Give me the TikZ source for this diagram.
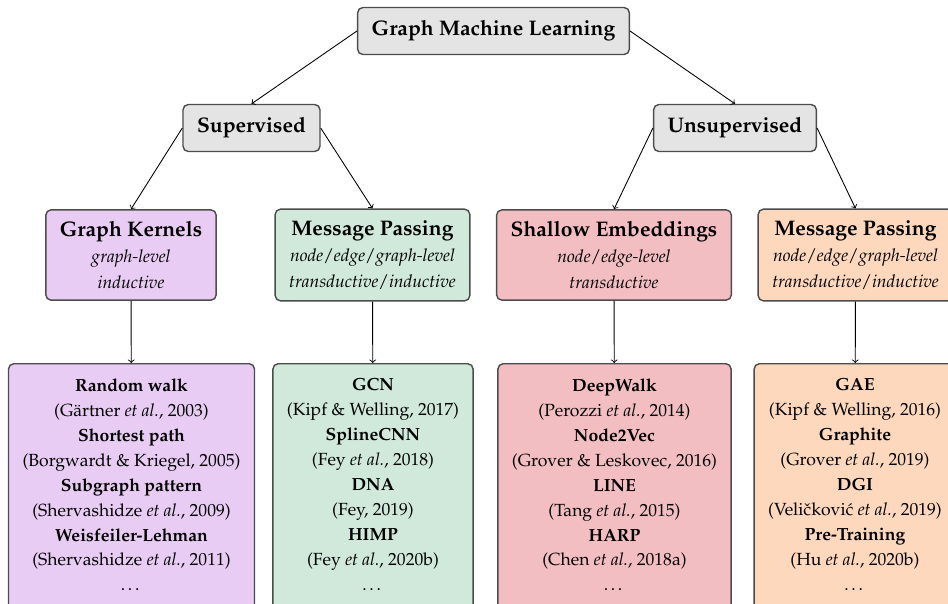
\documentclass[tikz,border=0pt]{standalone}
\usepackage[T1]{fontenc}
\usepackage{mathpazo}
\usepackage{tikz}

\definecolor{headgray}{RGB}{228,228,228}
\definecolor{kernpurple}{RGB}{232,204,243}
\definecolor{mpgreen}{RGB}{208,233,218}
\definecolor{shallowred}{RGB}{243,190,194}
\definecolor{mporange}{RGB}{253,216,189}

% last line of a method list, with some room below it
\newcommand{\moremethods}{\dots\rule[-12pt]{0pt}{12pt}}

\tikzset{
  box/.style={draw=black!70, line width=0.8pt, rounded corners=3pt,
    align=center, inner xsep=8pt},
  headbox/.style={box, fill=headgray, inner ysep=7.5pt,
    font=\large\bfseries},
  catbox/.style={box, inner ysep=6.5pt,
    font=\fontsize{10}{14.8}\selectfont},
  listbox/.style={box, anchor=north, inner ysep=8.5pt,
    font=\fontsize{10}{14.2}\selectfont},
}

\begin{document}
\begin{tikzpicture}[x=0.02cm,y=-0.02cm,line width=0.5pt]
\useasboundingbox (0,0) rectangle (948,603);
% top levels
\node[headbox] (gml) at (493.5,31) {Graph Machine Learning};
\node[headbox] (sup) at (251.5,128) {Supervised};
\node[headbox] (unsup) at (735,128) {Unsupervised};
% method families
\node[catbox,fill=kernpurple] (gk) at (131,255)
  {{\large\bfseries Graph Kernels}\\ \emph{graph-level}\\ \emph{inductive}};
\node[catbox,fill=mpgreen] (mps) at (372.5,255)
  {{\large\bfseries Message Passing}\\ \emph{node}/\emph{edge}/\emph{graph-level}\\ \emph{transductive}/\emph{inductive}};
\node[catbox,fill=shallowred] (se) at (614,255)
  {{\large\bfseries Shallow Embeddings}\\ \emph{node}/\emph{edge-level}\\ \emph{transductive}};
\node[catbox,fill=mporange] (mpu) at (855.5,255)
  {{\large\bfseries Message Passing}\\ \emph{node}/\emph{edge}/\emph{graph-level}\\ \emph{transductive}/\emph{inductive}};
% example methods
\node[listbox,fill=kernpurple] (gkl) at (131.5,363)
  {\textbf{Random walk}\\ (G\"artner \emph{et al.}, 2003)\\
   \textbf{Shortest path}\\ (Borgwardt \& Kriegel, 2005)\\
   \textbf{Subgraph pattern}\\ (Shervashidze \emph{et al.}, 2009)\\
   \textbf{Weisfeiler-Lehman}\\ (Shervashidze \emph{et al.}, 2011)\\ \moremethods};
\node[listbox,fill=mpgreen] (mpsl) at (373,363)
  {\textbf{GCN}\\ (Kipf \& Welling, 2017)\\
   \textbf{SplineCNN}\\ (Fey \emph{et al.}, 2018)\\
   \textbf{DNA}\\ (Fey, 2019)\\
   \textbf{HIMP}\\ (Fey \emph{et al.}, 2020b)\\ \moremethods};
\node[listbox,fill=shallowred] (sel) at (614.5,363)
  {\textbf{DeepWalk}\\ (Perozzi \emph{et al.}, 2014)\\
   \textbf{Node2Vec}\\ (Grover \& Leskovec, 2016)\\
   \textbf{LINE}\\ (Tang \emph{et al.}, 2015)\\
   \textbf{HARP}\\ (Chen \emph{et al.}, 2018a)\\ \moremethods};
\node[listbox,fill=mporange] (mpul) at (855,363)
  {\textbf{GAE}\\ (Kipf \& Welling, 2016)\\
   \textbf{Graphite}\\ (Grover \emph{et al.}, 2019)\\
   \textbf{DGI}\\ (Veli\v{c}kovi\'c \emph{et al.}, 2019)\\
   \textbf{Pre-Training}\\ (Hu \emph{et al.}, 2020b)\\ \moremethods};
% edges
\draw[->] (gml.west)--(sup.north);
\draw[->] (gml.east)--(unsup.north);
\draw[->] (sup.west)--(gk.north);
\draw[->] (sup.east)--(mps.north);
\draw[->] (unsup.west)--(se.north);
\draw[->] (unsup.east)--(mpu.north);
\draw[->] (gk)--(gkl);
\draw[->] (mps)--(mpsl);
\draw[->] (se)--(sel);
\draw[->] (mpu)--(mpul);
\end{tikzpicture}
\end{document}
